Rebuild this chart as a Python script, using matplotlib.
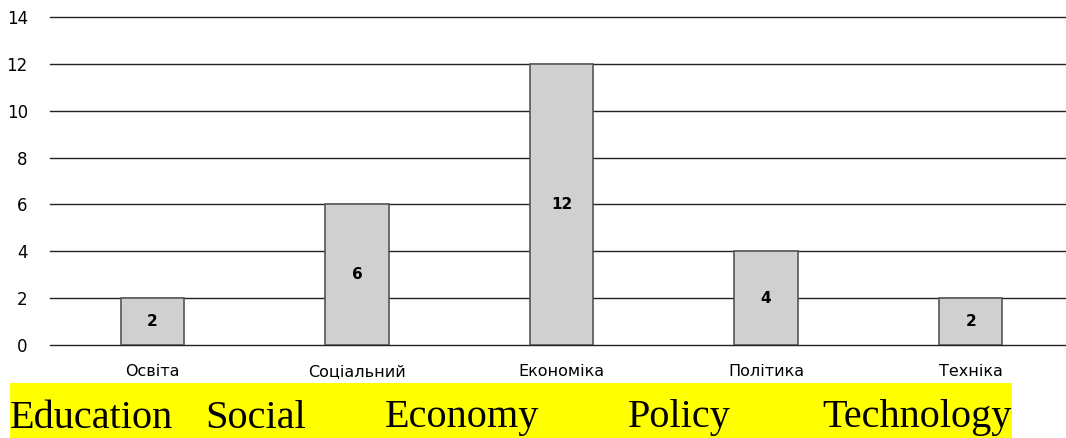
import matplotlib.pyplot as plt
from matplotlib.patches import Rectangle

categories = ['Освіта', 'Соціальний', 'Економіка', 'Політика', 'Техніка']
values = [2, 6, 12, 4, 2]
english_words = ['Education', 'Social', 'Economy', 'Policy', 'Technology']
word_x = [10, 205, 385, 628, 822]  # left edge of each word, px

W, H = 1066, 438
fig = plt.figure(figsize=(W / 100, H / 100), dpi=100)
ax = fig.add_axes([50 / W, 93 / H, 1023 / W, 328 / H])

x = list(range(len(categories)))
ax.bar(x, values, width=0.31, color='#d0d0d0', edgecolor='#555555', linewidth=1.2, zorder=3)
for xi, v in zip(x, values):
    ax.text(xi, v / 2, str(v), ha='center', va='center', fontsize=11,
            fontweight='bold', family='DejaVu Sans', zorder=4)

ax.set_xlim(-0.5, len(categories) - 0.5)
ax.set_ylim(0, 14)
ax.set_yticks(range(0, 15, 2))
ax.yaxis.grid(True, color='#222222', linewidth=1)
for gl in ax.get_ygridlines():
    gl.set_clip_on(False)
ax.set_axisbelow(True)
for s in ax.spines.values():
    s.set_visible(False)
ax.tick_params(axis='y', length=0, pad=16, labelsize=12)
ax.tick_params(axis='x', length=0, pad=14, labelsize=11.5)
ax.set_xticks(x)
ax.set_xticklabels(categories, family='DejaVu Sans')
for lbl in ax.get_yticklabels():
    lbl.set_family('DejaVu Sans')

# yellow caption band with english names
fig.add_artist(Rectangle((10 / W, 0), 1002 / W, 55 / H, transform=fig.transFigure,
                         facecolor='#ffff00', edgecolor='none'))
for word, px in zip(english_words, word_x):
    fig.text(px / W, 20 / H, word, ha='left', va='center', fontsize=29,
             family='Liberation Serif')

fig.savefig('out.png', dpi=100)
